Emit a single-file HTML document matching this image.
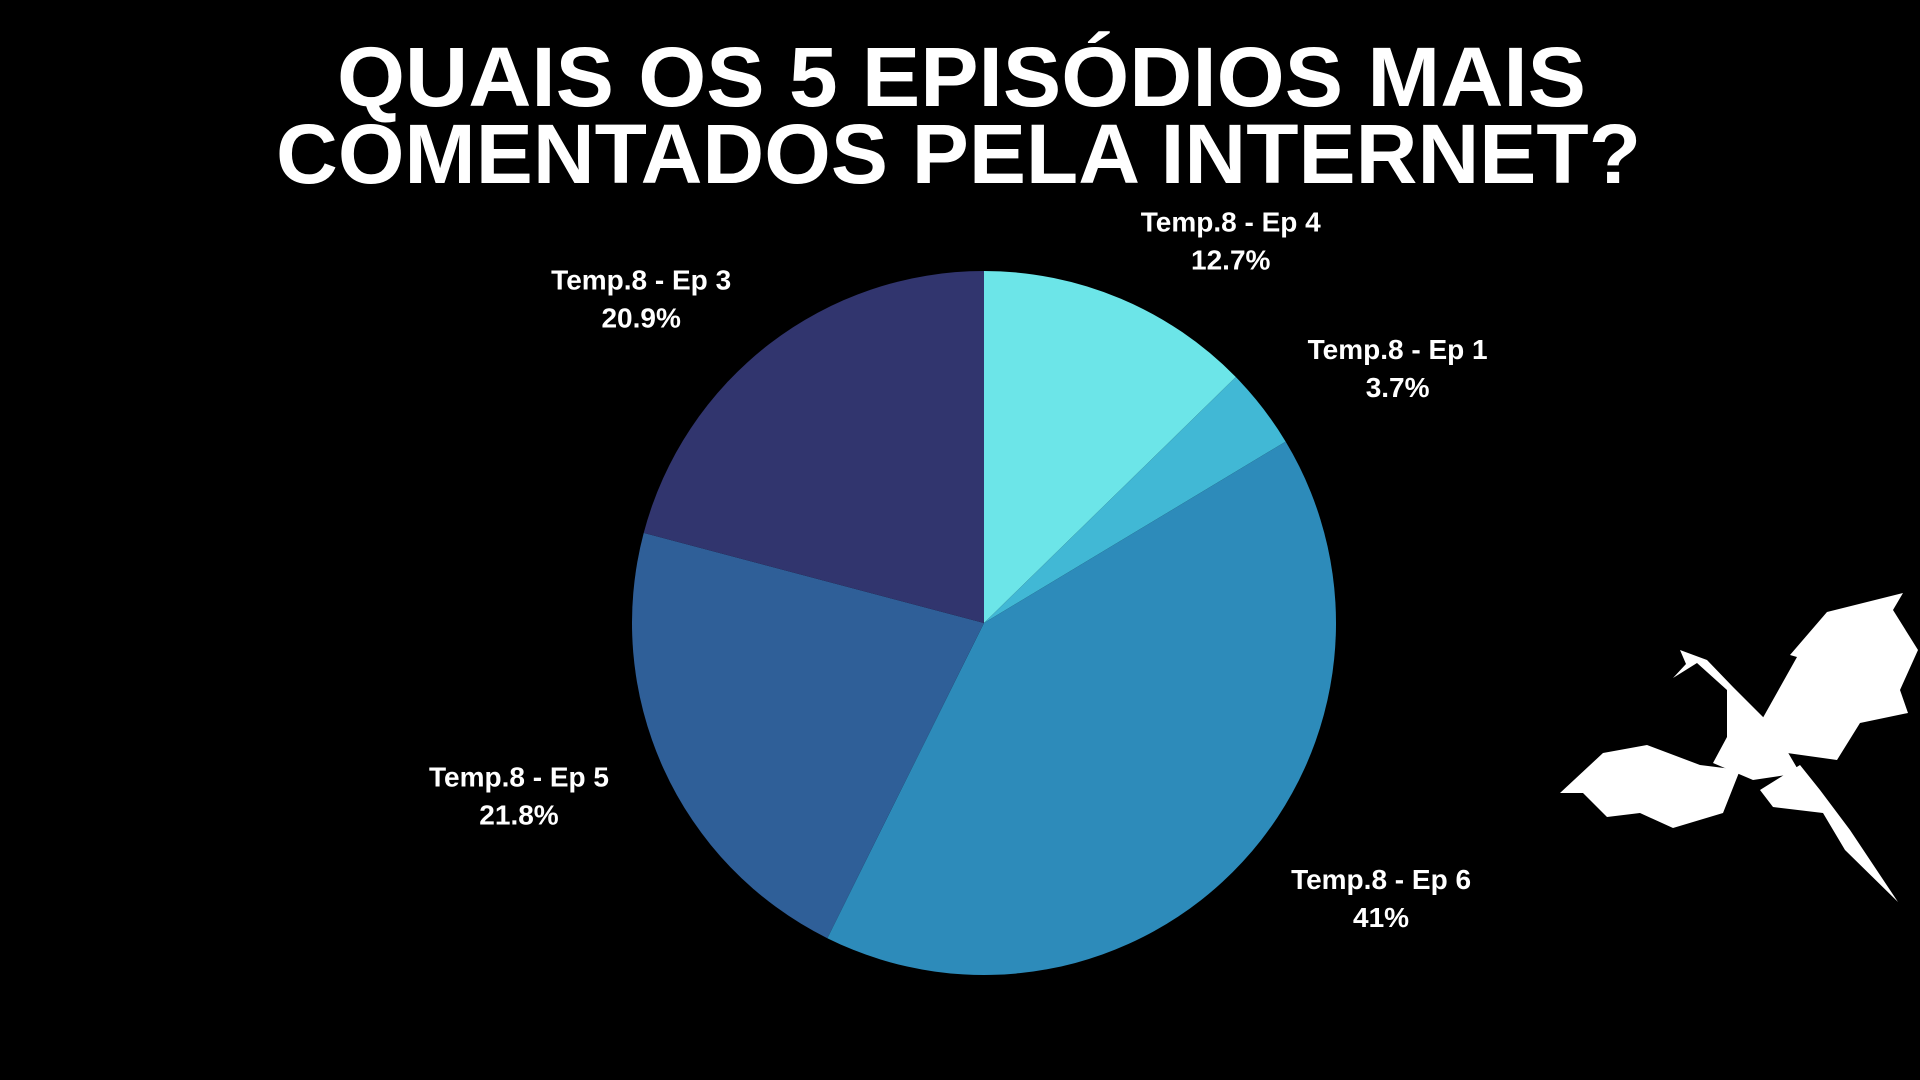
<!DOCTYPE html>
<html><head><meta charset="utf-8"><style>
html,body{margin:0;padding:0;background:#000;width:1920px;height:1080px;overflow:hidden}
svg{display:block}
</style></head><body>
<svg id="chart" width="1920" height="1080" viewBox="0 0 1920 1080" xmlns="http://www.w3.org/2000/svg">
<rect width="1920" height="1080" fill="#000"/>
<g font-family="'Liberation Sans', sans-serif" font-weight="bold" fill="#fff" font-size="84">
<text x="337" y="106" textLength="1249" lengthAdjust="spacingAndGlyphs">QUAIS OS 5 EPISÓDIOS MAIS</text>
<text x="276" y="183" textLength="1365" lengthAdjust="spacingAndGlyphs">COMENTADOS PELA INTERNET?</text>
</g>
<g id="slices"></g>
<g id="labels" font-family="'Liberation Sans', sans-serif" font-weight="bold" fill="#fff" font-size="28" text-anchor="middle"></g>
<g fill="#fff">
<path d="M1760,723 L1797,657 L1790,655 L1827,612 L1903,593 L1893,610 L1918,650 L1900,690 L1908,713 L1860,723 L1837,760 L1780,752 Z"/>
<path d="M1560,793 L1603,753 L1647,745 L1700,765 L1740,770 L1723,813 L1673,828 L1640,813 L1607,817 L1583,793 Z"/>
<path d="M1680,650 L1707,660 L1733,687 L1773,727 L1800,773 L1753,780 L1713,763 L1727,737 L1727,690 L1697,663 L1673,678 L1686,664 Z"/>
<path d="M1800,765 L1820,790 L1850,830 L1898,902 L1845,850 L1823,813 L1773,807 L1760,790 Z"/>
</g>
</svg>
<script>
const categories = ["Temp.8 - Ep 4","Temp.8 - Ep 1","Temp.8 - Ep 6","Temp.8 - Ep 5","Temp.8 - Ep 3"];
const values = [12.7, 3.7, 41, 21.8, 20.9];
const valueLabels = ["12.7%","3.7%","41%","21.8%","20.9%"];
const colors = ["#6ce5e8","#41b8d5","#2d8bba","#2f5f98","#31356e"];
// label layout (not data): angular nudge (deg) and radius per slice
const labelNudge = [10, 6, -8, 4, -9];
const labelRadius = [455, 486, 483, 496, 472];
const cx = 984, cy = 623, r = 352;
const NS = "http://www.w3.org/2000/svg";
const total = values.reduce((a,b)=>a+b,0);
function pt(angle, rad){ return [cx + rad*Math.sin(angle), cy - rad*Math.cos(angle)]; }
let acc = 0;
const gS = document.getElementById('slices'), gL = document.getElementById('labels');
values.forEach((v,i)=>{
  const a0 = acc/total*2*Math.PI; acc += v; const a1 = acc/total*2*Math.PI;
  const p0 = pt(a0,r), p1 = pt(a1,r);
  const large = (a1-a0) > Math.PI ? 1 : 0;
  const path = document.createElementNS(NS,'path');
  path.setAttribute('d',`M${cx},${cy} L${p0[0]},${p0[1]} A${r},${r} 0 ${large} 1 ${p1[0]},${p1[1]} Z`);
  path.setAttribute('fill',colors[i]);
  
  
  gS.appendChild(path);
  const mid = (a0+a1)/2 + labelNudge[i]*Math.PI/180, lp = pt(mid, labelRadius[i]);
  const t = document.createElementNS(NS,'text');
  t.setAttribute('x', lp[0]); t.setAttribute('y', lp[1]-9);
  
  
  const s1 = document.createElementNS(NS,'tspan'); s1.setAttribute('x',lp[0]); s1.textContent = categories[i];
  const s2 = document.createElementNS(NS,'tspan'); s2.setAttribute('x',lp[0]); s2.setAttribute('dy','38'); s2.textContent = valueLabels[i];
  t.appendChild(s1); t.appendChild(s2);
  gL.appendChild(t);
});
</script>
</body></html>
